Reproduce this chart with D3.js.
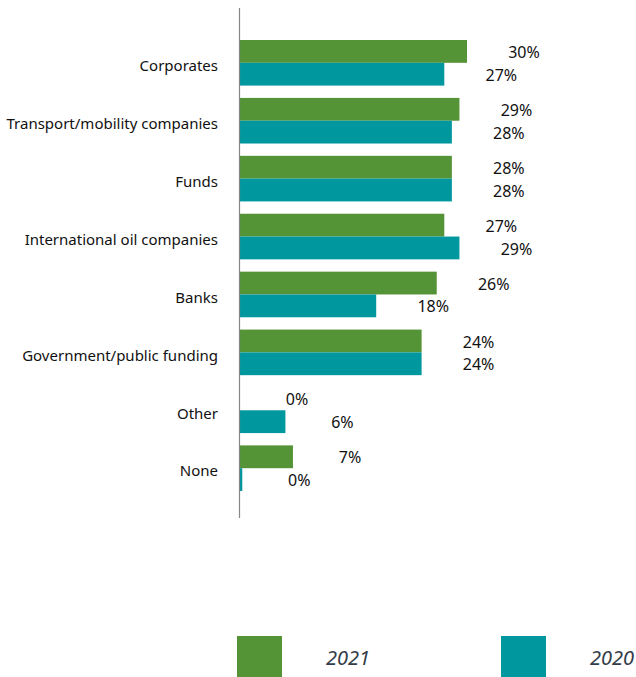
<!DOCTYPE html>
<html>
<head>
<meta charset="utf-8">
<script src="https://cdn.jsdelivr.net/npm/d3@7"></script>
<style>
  html, body { margin: 0; padding: 0; background: #fff; }
  svg { display: block; }
</style>
</head>
<body>
<svg id="chart" width="636" height="677"></svg>
<script>
// Funding sources, share of respondents (%)
const categories = [
  "Corporates",
  "Transport/mobility companies",
  "Funds",
  "International oil companies",
  "Banks",
  "Government/public funding",
  "Other",
  "None"
];
const values2021 = [30, 29, 28, 27, 26, 24, 0, 7];
const values2020 = [27, 28, 28, 29, 18, 24, 6, 0.3];
const seriesNames = ["2021", "2020"];
const seriesColors = ["#549336", "#00979f"];

const svg = d3.select("#chart");
const axisX = 240;

const x = d3.scaleLinear().domain([0, 30]).range([axisX, axisX + 227]);
const y = d3.scaleBand().domain(categories).range([40, 491]).paddingInner(0.2125).paddingOuter(0);
const ySub = d3.scaleBand().domain(seriesNames).range([0, y.bandwidth()]);

const rows = categories.map((c, i) => ({
  category: c,
  values: [
    { series: "2021", value: values2021[i] },
    { series: "2020", value: values2020[i] }
  ]
}));

const fmt = v => d3.format(".0f")(v) + "%";
const color = d3.scaleOrdinal().domain(seriesNames).range(seriesColors);

const groups = svg.append("g").selectAll("g")
  .data(rows).join("g")
  .attr("transform", d => `translate(0,${y(d.category)})`);

groups.selectAll("rect")
  .data(d => d.values).join("rect")
  .attr("x", x(0))
  .attr("y", d => ySub(d.series))
  .attr("width", d => x(d.value) - x(0))
  .attr("height", ySub.bandwidth())
  .attr("fill", d => color(d.series));

groups.selectAll("text.val")
  .data(d => d.values).join("text")
  .attr("class", "val")
  .attr("x", d => x(d.value) + 57)
  .attr("y", d => ySub(d.series) + ySub.bandwidth() / 2 + 1)
  .attr("dy", "0.35em")
  .attr("text-anchor", "middle")
  .style("font-family", "'Noto Sans', sans-serif")
  .style("font-size", "16px")
  .attr("fill", "#111")
  .text(d => fmt(d.value));

// Category axis on the left
const yAxis = d3.axisLeft(y).tickSize(0).tickPadding(22);
const ax = svg.append("g")
  .attr("transform", `translate(${axisX},0)`)
  .call(yAxis);
ax.select(".domain").remove();
ax.selectAll("text")
  .attr("dy", "0.55em")
  .style("font-family", "'Noto Sans', sans-serif")
  .style("font-size", "15px")
  .attr("fill", "#111");

svg.append("line")
  .attr("x1", axisX - 0.5).attr("x2", axisX - 0.5)
  .attr("y1", 8).attr("y2", 518)
  .attr("stroke", "#888")
  .attr("stroke-width", 1.2);

// Legend
const legendX = d3.scalePoint().domain(seriesNames).range([237, 501]);
const leg = svg.append("g").selectAll("g")
  .data(seriesNames).join("g")
  .attr("transform", d => `translate(${legendX(d)},636)`);
leg.append("rect")
  .attr("width", 45).attr("height", 41)
  .attr("fill", d => color(d));
leg.append("text")
  .attr("x", 89).attr("y", 29)
  .style("font-family", "'Noto Sans', sans-serif")
  .style("font-size", "20px")
  .style("font-style", "italic")
  .attr("fill", "#333d4a")
  .text(d => d);
</script>
</body>
</html>
